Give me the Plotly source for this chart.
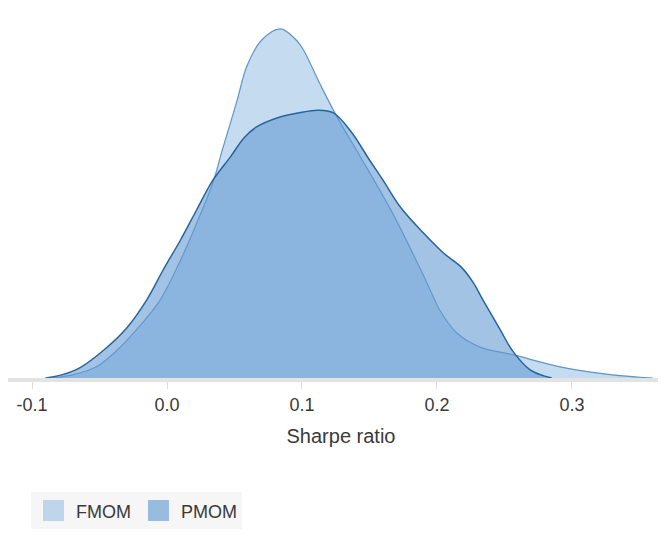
import plotly.graph_objects as go

# density curves (x = Sharpe ratio, y = density)
fmom_x = [-0.085, -0.07, -0.053, -0.037, -0.02, -0.005, 0.01, 0.024, 0.034, 0.041,
          0.052, 0.059, 0.07, 0.084, 0.095, 0.101, 0.113, 0.126, 0.143, 0.167,
          0.187, 0.196, 0.202, 0.215, 0.232, 0.256, 0.293, 0.33, 0.36]
fmom_y = [0, 0.05, 0.17, 0.44, 0.83, 1.24, 1.87, 2.56, 3.10, 3.62,
          4.41, 4.94, 5.36, 5.54, 5.38, 5.21, 4.68, 4.14, 3.52, 2.62,
          1.76, 1.35, 1.08, 0.71, 0.49, 0.37, 0.17, 0.05, 0]

pmom_x = [-0.09, -0.078, -0.064, -0.047, -0.03, -0.015, -0.003, 0.01, 0.022, 0.034,
          0.047, 0.057, 0.066, 0.082, 0.098, 0.112, 0.123, 0.136, 0.15, 0.16,
          0.173, 0.19, 0.205, 0.218, 0.227, 0.234, 0.247, 0.256, 0.269, 0.285]
pmom_y = [0, 0.05, 0.17, 0.44, 0.79, 1.24, 1.71, 2.19, 2.67, 3.14,
          3.51, 3.81, 3.98, 4.13, 4.21, 4.25, 4.21, 3.92, 3.46, 3.14,
          2.71, 2.30, 1.98, 1.76, 1.51, 1.24, 0.76, 0.43, 0.13, 0]

tick_vals = [-0.1, 0.0, 0.1, 0.2, 0.3]
tick_text = ["-0.1", "0.0", "0.1", "0.2", "0.3"]

fig = go.Figure()

fig.add_trace(
    go.Scatter(
        x=fmom_x, y=fmom_y, mode="lines", line_shape="spline",
        line=dict(color="rgb(95,150,200)", width=1.2),
        fill="tozeroy", fillcolor="rgba(150,190,225,0.55)",
        showlegend=False,
    )
)
fig.add_trace(
    go.Scatter(
        x=pmom_x, y=pmom_y, mode="lines", line_shape="spline",
        line=dict(color="rgb(40,100,160)", width=1.5),
        fill="tozeroy", fillcolor="rgba(100,155,210,0.6)",
        showlegend=False,
    )
)

# legend entries as plain squares
for name, col in [("FMOM", "rgb(190,214,236)"), ("PMOM", "rgb(152,188,224)")]:
    fig.add_trace(
        go.Scatter(
            x=[None], y=[None], mode="markers", name=name,
            marker=dict(symbol="square", size=16, color=col, line=dict(color=col, width=5)),
        )
    )

# the page body has an 8px margin, so the figure is shifted up/left by 8px
fig.update_layout(
    width=666, height=537,
    margin=dict(l=0, r=0, t=2, b=167),
    paper_bgcolor="white", plot_bgcolor="white",
    font=dict(family="Liberation Sans, Arial, sans-serif", size=18, color="#3a3a3a"),
    legend=dict(
        orientation="h", x=0.0345, y=-0.361, xanchor="left", yanchor="middle",
        font=dict(size=18, color="#3a3a3a"), bgcolor="#f6f6f6",
        itemsizing="trace", itemwidth=35,
    ),
)
fig.update_xaxes(
    range=[-0.1178, 0.3756], tickvals=tick_vals, ticktext=tick_text,
    showgrid=False, zeroline=False, showline=True, linecolor="#e3e3e3", linewidth=4,
    ticks="outside", ticklen=7, tickcolor="#dddddd",
    title=dict(text="Sharpe ratio", standoff=16, font=dict(size=20)),
)
fig.update_yaxes(range=[0, 5.84], visible=False)

fig.write_html("out.html")
